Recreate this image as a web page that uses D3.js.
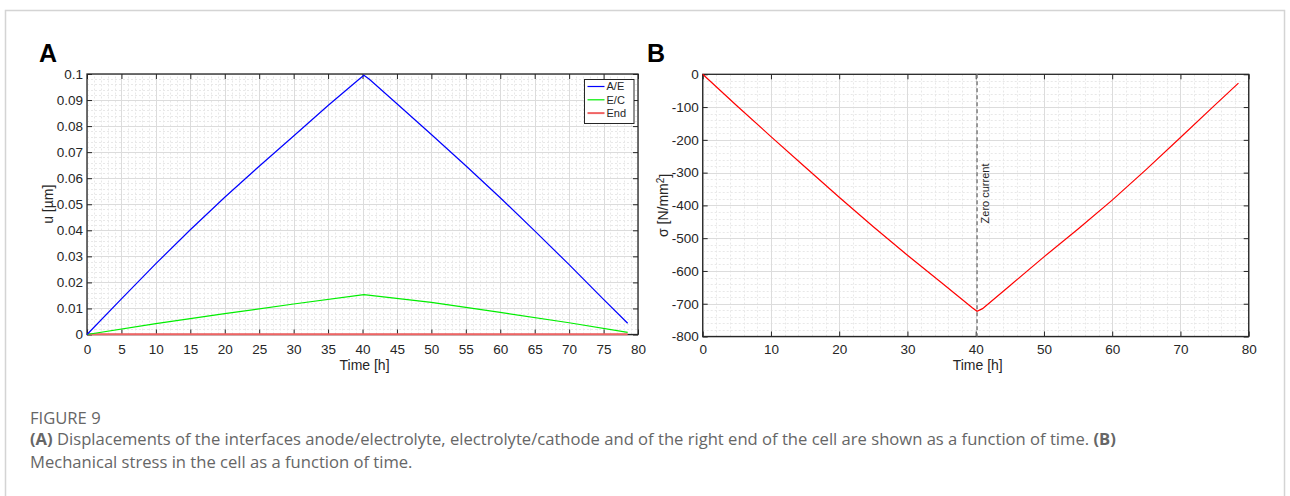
<!DOCTYPE html>
<html>
<head>
<meta charset="utf-8">
<script src="https://cdn.jsdelivr.net/npm/d3@7"></script>
<style>
  body { margin: 0; background: #fff; }
  svg { display: block; }
</style>
</head>
<body>
<svg id="fig" width="1290" height="496"></svg>
<script>
// ---- panel A: displacement of the interfaces, u [µm] over time [h]
const aeTime = [0, 5, 10, 15, 20, 25, 30, 35, 39.5, 40.2, 41, 45, 50, 55, 60, 65, 70, 75, 78.5];
const aeU = [0, 0.0137, 0.0272, 0.0402, 0.0527, 0.0646, 0.0762, 0.0879, 0.0980, 0.0995, 0.0980, 0.0886, 0.0768, 0.0648, 0.0525, 0.0398, 0.0268, 0.0135, 0.0043];
const ecTime = [0, 10, 20, 30, 40.2, 50, 60, 70, 78.5];
const ecU = [0, 0.0042, 0.0080, 0.0117, 0.0153, 0.0123, 0.0085, 0.0045, 0.0008];
const endTime = [0, 40.2, 78.5];
const endU = [0.0001, 0.0001, 0.0001];
const seriesNames = ["A/E", "E/C", "End"];
const seriesColors = ["#0000ff", "#00ee00", "#f06464"];

// ---- panel B: stress sigma [N/mm^2] over time [h]
const sigmaTime = [0, 5, 10, 15, 20, 25, 30, 35, 39.5, 40.2, 41, 45, 50, 55, 60, 65, 70, 75, 78.5];
const sigmaVal = [0, -96, -190, -283, -375, -465, -552, -636, -712, -723, -715, -645, -557, -472, -384, -290, -193, -95, -27];
const zeroCurrentTime = 40.2;

// tick values
const aXTicks = [0, 5, 10, 15, 20, 25, 30, 35, 40, 45, 50, 55, 60, 65, 70, 75, 80];
const aYTicks = [0, 0.01, 0.02, 0.03, 0.04, 0.05, 0.06, 0.07, 0.08, 0.09, 0.1];
const bXTicks = [0, 10, 20, 30, 40, 50, 60, 70, 80];
const bYTicks = [-800, -700, -600, -500, -400, -300, -200, -100, 0];

const sans = '"Liberation Sans", Arial, Helvetica, sans-serif';
const axisColor = "#262626";
const svg = d3.select("#fig");

// card border around the figure
svg.append("rect")
    .attr("x", 5.5).attr("y", 10.5)
    .attr("width", 1279).attr("height", 520)
    .attr("fill", "#fff")
    .attr("stroke", "#d4d4d4")
    .attr("stroke-width", 1.5);

function drawAxes(x, y, xTicks, yTicks, xMinorStep, yMinorStep, labelPad) {
    const g = svg.append("g");
    const [xl, xr] = x.range();
    const [yb, yt] = y.range();
    const xd = x.domain(), yd = y.domain();

    const xMinor = d3.range(xd[0], xd[1] + 1e-9, xMinorStep).filter(v => !xTicks.some(t => Math.abs(t - v) < 1e-9));
    const yMinor = d3.range(0, Math.round((yd[1] - yd[0]) / yMinorStep) + 1)
        .map(i => yd[0] + i * yMinorStep)
        .filter(v => !yTicks.some(t => Math.abs(t - v) < 1e-9));

    // minor grid (dashed)
    g.append("g").selectAll("line").data(xMinor).join("line")
        .attr("x1", d => Math.round(x(d)) + 0.5).attr("x2", d => Math.round(x(d)) + 0.5)
        .attr("y1", yb).attr("y2", yt)
        .attr("stroke", "#e8e8e8").attr("stroke-dasharray", "2,2");
    g.append("g").selectAll("line").data(yMinor).join("line")
        .attr("y1", d => Math.round(y(d)) + 0.5).attr("y2", d => Math.round(y(d)) + 0.5)
        .attr("x1", xl).attr("x2", xr)
        .attr("stroke", "#e8e8e8").attr("stroke-dasharray", "2,2");

    // major grid
    g.append("g").selectAll("line").data(xTicks).join("line")
        .attr("x1", d => Math.round(x(d)) + 0.5).attr("x2", d => Math.round(x(d)) + 0.5)
        .attr("y1", yb).attr("y2", yt)
        .attr("stroke", "#dcdcdc");
    g.append("g").selectAll("line").data(yTicks).join("line")
        .attr("y1", d => Math.round(y(d)) + 0.5).attr("y2", d => Math.round(y(d)) + 0.5)
        .attr("x1", xl).attr("x2", xr)
        .attr("stroke", "#dcdcdc");

    // ticks point inward on all four sides
    const fmt = d => String(+d.toFixed(3));
    g.append("g").attr("transform", `translate(0,${yb})`)
        .call(d3.axisBottom(x).tickValues(xTicks).tickSize(-5).tickSizeOuter(0).tickPadding(labelPad).tickFormat(fmt));
    g.append("g").attr("transform", `translate(${xl},0)`)
        .call(d3.axisLeft(y).tickValues(yTicks).tickSize(-5).tickSizeOuter(0).tickPadding(4).tickFormat(fmt));
    g.append("g").attr("transform", `translate(0,${yt})`)
        .call(d3.axisTop(x).tickValues(xTicks).tickSize(-5).tickSizeOuter(0).tickFormat(""));
    g.append("g").attr("transform", `translate(${xr},0)`)
        .call(d3.axisRight(y).tickValues(yTicks).tickSize(-5).tickSizeOuter(0).tickFormat(""));

    g.selectAll(".domain").remove();
    g.selectAll(".tick line").attr("stroke", axisColor);
    g.selectAll(".tick text")
        .attr("fill", axisColor)
        .style("font-family", sans)
        .style("font-size", "13.5px");

    g.append("rect")
        .attr("x", xl).attr("y", yt)
        .attr("width", xr - xl).attr("height", yb - yt)
        .attr("fill", "none")
        .attr("stroke", axisColor)
        .attr("stroke-width", 1.3);
    return g;
}

function panelLabel(text, px, py) {
    svg.append("text")
        .attr("x", px).attr("y", py)
        .style("font-family", sans)
        .style("font-size", "25px")
        .style("font-weight", "bold")
        .attr("fill", "#000")
        .text(text);
}

// ================= panel A
const xA = d3.scaleLinear().domain([0, 80]).range([87, 638]);
const yA = d3.scaleLinear().domain([0, 0.1]).range([334.5, 74]);
drawAxes(xA, yA, aXTicks, aYTicks, 1, 0.002, 10);
panelLabel("A", 39, 62);

const lineA = d3.line().x(d => xA(d[0])).y(d => yA(d[1]));
const aSeries = [d3.zip(aeTime, aeU), d3.zip(ecTime, ecU), d3.zip(endTime, endU)];
// draw End first so the others sit above it
[2, 1, 0].forEach(i => {
    svg.append("path")
        .datum(aSeries[i])
        .attr("d", lineA)
        .attr("fill", "none")
        .attr("stroke", seriesColors[i])
        .attr("stroke-width", i === 2 ? 2 : 1.2);
});

svg.append("text")
    .attr("transform", `translate(${(87 + 638) / 2 + 2},370)`)
    .attr("text-anchor", "middle")
    .style("font-family", sans).style("font-size", "14px")
    .attr("fill", axisColor)
    .text("Time [h]");
svg.append("text")
    .attr("transform", `translate(53,${(74 + 334.5) / 2}) rotate(-90)`)
    .attr("text-anchor", "middle")
    .style("font-family", sans).style("font-size", "14px")
    .attr("fill", axisColor)
    .text("u [µm]");

// legend
const legend = svg.append("g").attr("transform", "translate(584.5,79.5)");
legend.append("rect")
    .attr("width", 49.5).attr("height", 44)
    .attr("fill", "#fff").attr("stroke", axisColor).attr("stroke-width", 1);
seriesNames.forEach((name, i) => {
    const ly = 7 + i * 13.3;
    legend.append("line")
        .attr("x1", 3).attr("x2", 20).attr("y1", ly).attr("y2", ly)
        .attr("stroke", seriesColors[i]).attr("stroke-width", i === 2 ? 2 : 1.2);
    legend.append("text")
        .attr("x", 22).attr("y", ly).attr("dy", "0.35em")
        .style("font-family", sans).style("font-size", "11px")
        .attr("fill", axisColor)
        .text(name);
});

// ================= panel B
const xB = d3.scaleLinear().domain([0, 80]).range([702.7, 1248.7]);
const yB = d3.scaleLinear().domain([-800, 0]).range([336.5, 74.3]);
drawAxes(xB, yB, bXTicks, bYTicks, 2, 20, 8.3);
panelLabel("B", 647, 62);

// zero-current marker
svg.append("line")
    .attr("x1", xB(zeroCurrentTime)).attr("x2", xB(zeroCurrentTime))
    .attr("y1", yB(0)).attr("y2", yB(-800))
    .attr("stroke", "#7f7f7f").attr("stroke-width", 1.5)
    .attr("stroke-dasharray", "4,3");
svg.append("text")
    .attr("transform", `translate(${xB(zeroCurrentTime) + 8},193.5) rotate(-90)`)
    .attr("text-anchor", "middle")
    .attr("dy", "0.35em")
    .style("font-family", sans).style("font-size", "11px")
    .attr("fill", axisColor)
    .text("Zero current");

const lineB = d3.line().x(d => xB(d[0])).y(d => yB(d[1]));
svg.append("path")
    .datum(d3.zip(sigmaTime, sigmaVal))
    .attr("d", lineB)
    .attr("fill", "none")
    .attr("stroke", "#ff0000")
    .attr("stroke-width", 1.2);

svg.append("text")
    .attr("transform", `translate(${(702.7 + 1248.7) / 2 + 2},370)`)
    .attr("text-anchor", "middle")
    .style("font-family", sans).style("font-size", "14px")
    .attr("fill", axisColor)
    .text("Time [h]");
const sigLabel = svg.append("text")
    .attr("transform", `translate(668,${(74.3 + 336.5) / 2}) rotate(-90)`)
    .attr("text-anchor", "middle")
    .style("font-family", sans).style("font-size", "14px")
    .attr("fill", axisColor);
sigLabel.append("tspan").text("σ [N/mm");
sigLabel.append("tspan").attr("dy", "-0.45em").style("font-size", "10px").text("2");
sigLabel.append("tspan").attr("dy", "0.45em").text("]");

// ================= caption
const capFont = '"Open Sans", Lato, sans-serif';
const capSize = "16.6px";
svg.append("text")
    .attr("x", 30).attr("y", 423.5)
    .style("font-family", capFont).style("font-size", capSize)
    .attr("fill", "#666")
    .text("FIGURE 9");
const cap1 = svg.append("text")
    .attr("x", 30).attr("y", 445)
    .style("font-family", capFont).style("font-size", capSize)
    .attr("fill", "#666");
cap1.append("tspan").style("font-weight", "bold").text("(A)");
cap1.append("tspan").text(" Displacements of the interfaces anode/electrolyte, electrolyte/cathode and of the right end of the cell are shown as a function of time. ");
cap1.append("tspan").style("font-weight", "bold").text("(B)");
svg.append("text")
    .attr("x", 30).attr("y", 467.5)
    .style("font-family", capFont).style("font-size", capSize)
    .attr("fill", "#666")
    .text("Mechanical stress in the cell as a function of time.");
</script>
</body>
</html>
